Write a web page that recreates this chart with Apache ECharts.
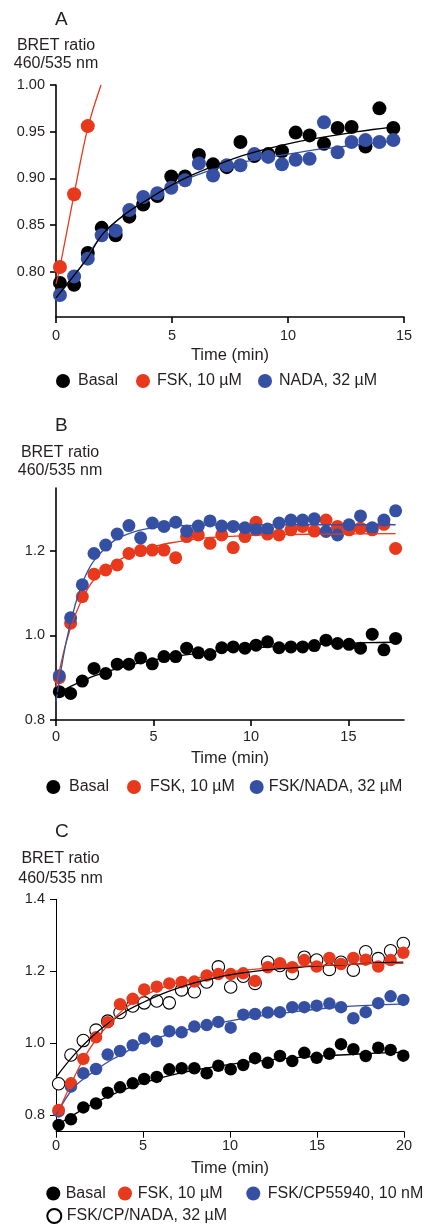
<!DOCTYPE html>
<html>
<head>
<meta charset="utf-8">
<script src="https://cdn.jsdelivr.net/npm/echarts@6/dist/echarts.min.js"></script>
<style>
html,body{margin:0;padding:0;background:#fff;}
#chart{width:425px;height:1224px;}
</style>
</head>
<body>
<div id="chart"></div>
<script>
// ---------- Panel A ----------
const timesA = [0.17,0.78,1.37,1.97,2.57,3.16,3.76,4.37,4.97,5.56,6.16,6.77,7.36,7.95,8.55,9.15,9.74,10.33,10.93,11.55,12.14,12.74,13.34,13.94,14.54];
const basalA = [0.788,0.786,0.820,0.847,0.839,0.859,0.872,0.881,0.902,0.902,0.925,0.915,0.912,0.939,0.924,0.926,0.929,0.949,0.946,0.937,0.954,0.955,0.934,0.975,0.954];
const nadaA  = [0.775,0.795,0.814,0.839,0.844,0.866,0.880,0.884,0.890,0.898,0.916,0.903,0.914,0.914,0.926,0.923,0.915,0.920,0.921,0.960,0.928,0.939,0.941,0.939,0.941];
const fskTimesA = [0.17,0.78,1.37];
const fskA = [0.805,0.883,0.956];
const fitBasalA = [[0,0.772],[1,0.803],[1.37,0.815],[2,0.840],[3,0.862],[4,0.878],[5,0.893],[6,0.905],[7,0.915],[8,0.924],[9,0.931],[10,0.937],[11,0.942],[12,0.946],[13,0.950],[14.54,0.955]];
const fitNadaA  = [[0,0.772],[1,0.803],[2,0.840],[3,0.862],[4,0.879],[5,0.892],[6,0.903],[7,0.911],[8,0.917],[9,0.922],[10,0.926],[11,0.930],[12,0.933],[13,0.936],[14.54,0.940]];
const fitFskA   = [[0,0.787],[0.17,0.805],[0.78,0.883],[1.37,0.954],[1.94,1.0]];
const xTicksA = [0,5,10,15];
const yTicksA = [0.80,0.85,0.90,0.95,1.00];

// ---------- Panel B ----------
const timesB = [0.17,0.75,1.35,1.95,2.55,3.14,3.74,4.34,4.94,5.54,6.14,6.70,7.30,7.90,8.50,9.09,9.69,10.26,10.85,11.44,12.05,12.65,13.25,13.85,14.44,15.03,15.62,16.22,16.82,17.42];
const basalB = [0.867,0.863,0.892,0.922,0.910,0.932,0.932,0.947,0.933,0.950,0.950,0.970,0.959,0.955,0.971,0.973,0.970,0.977,0.985,0.971,0.973,0.973,0.976,0.989,0.981,0.979,0.970,1.003,0.966,0.993];
const fskB   = [0.900,1.029,1.092,1.145,1.155,1.167,1.194,1.201,1.202,1.202,1.184,1.234,1.238,1.218,1.238,1.208,1.234,1.268,1.240,1.238,1.250,1.258,1.247,1.273,1.258,1.250,1.254,1.250,1.263,1.206];
const nadaB  = [0.905,1.042,1.120,1.194,1.214,1.240,1.260,1.231,1.266,1.258,1.268,1.247,1.259,1.271,1.259,1.258,1.255,1.250,1.252,1.266,1.273,1.273,1.276,1.246,1.238,1.262,1.283,1.255,1.273,1.295];
const fitBasalB = [[0,0.862],[1,0.885],[2,0.905],[3,0.920],[4,0.932],[5,0.942],[6,0.950],[7,0.956],[8,0.962],[10,0.970],[12,0.976],[14,0.980],[16,0.983],[17.42,0.984]];
const fitFskB   = [[0,0.878],[0.5,0.980],[1,1.050],[1.5,1.100],[2,1.135],[3,1.172],[4,1.195],[5,1.210],[6,1.220],[7,1.227],[8,1.232],[10,1.237],[12,1.239],[14,1.240],[17.42,1.241]];
const fitNadaB  = [[0,0.843],[0.5,0.980],[1,1.075],[1.5,1.140],[2,1.180],[3,1.225],[4,1.245],[5,1.255],[6,1.259],[8,1.261],[12,1.262],[17.42,1.262]];
const xTicksB = [0,5,10,15];
const yTicksB = [0.8,1.0,1.2];

// ---------- Panel C ----------
const timesC = [0.15,0.86,1.57,2.30,2.97,3.68,4.41,5.07,5.79,6.51,7.22,7.95,8.66,9.33,10.04,10.76,11.44,12.17,12.87,13.58,14.27,14.98,15.71,16.38,17.09,17.80,18.52,19.23,19.96];
const basalC = [0.772,0.788,0.821,0.832,0.862,0.877,0.888,0.900,0.906,0.927,0.930,0.930,0.916,0.937,0.927,0.939,0.958,0.945,0.964,0.950,0.973,0.959,0.970,0.997,0.983,0.964,0.987,0.981,0.965];
const fskC   = [0.814,0.888,0.956,1.016,1.058,1.108,1.123,1.149,1.157,1.166,1.170,1.171,1.188,1.192,1.192,1.194,1.173,1.211,1.222,1.211,1.231,1.213,1.237,1.220,1.237,1.232,1.213,1.231,1.251];
const cpC    = [0.810,0.879,0.916,0.928,0.968,0.978,0.994,1.013,1.005,1.033,1.030,1.046,1.050,1.059,1.043,1.079,1.081,1.085,1.086,1.100,1.100,1.104,1.110,1.100,1.069,1.086,1.111,1.130,1.120];
const cpNadaC= [0.887,0.967,1.007,1.036,1.061,1.085,1.103,1.112,1.117,1.112,1.148,1.143,1.170,1.212,1.156,1.186,1.166,1.225,1.216,1.194,1.239,1.231,1.205,1.225,1.203,1.254,1.235,1.257,1.277];
const fitBasalC  = [[0,0.770],[1,0.800],[2,0.828],[3,0.852],[4,0.872],[5,0.889],[6,0.903],[7,0.915],[8,0.925],[10,0.941],[12,0.952],[14,0.960],[16,0.966],[18,0.971],[19.96,0.974]];
const fitFskC    = [[0.15,0.810],[0.86,0.886],[1.57,0.955],[2.3,1.010],[3,1.050],[4,1.098],[5,1.130],[6,1.152],[7,1.168],[8,1.180],[9,1.190],[10,1.198],[12,1.208],[14,1.214],[16,1.218],[18,1.221],[19.96,1.222]];
const fitCpC     = [[0,0.800],[1,0.875],[2,0.915],[3,0.948],[4,0.975],[5,1.002],[6,1.017],[8,1.042],[10,1.062],[12,1.077],[14,1.089],[16,1.099],[18,1.105],[19.96,1.109]];
const fitCpNadaC = [[0,0.905],[1,0.965],[2,1.015],[3,1.055],[4,1.088],[5,1.113],[6,1.135],[7,1.153],[8,1.168],[10,1.190],[12,1.203],[14,1.211],[16,1.217],[18,1.222],[19.96,1.225]];
const xTicksC = [0,5,10,15,20];
const yTicksC = [0.8,1.0,1.2,1.4];

// ---------- labels ----------
const panelLabels = ['A','B','C'];
const yTitle = 'BRET ratio\n460/535 nm';
const xTitle = 'Time (min)';
const nBasal = 'Basal', nFsk = 'FSK, 10 µM', nNadaA = 'NADA, 32 µM', nNadaB = 'FSK/NADA, 32 µM', nCp = 'FSK/CP55940, 10 nM', nCpNada = 'FSK/CP/NADA, 32 µM';

// ---------- styling ----------
const FONT = "'Liberation Sans', Arial, Helvetica, sans-serif";
const TXT = '#231f20';
const BLACK = '#000000', RED = '#E8391D', BLUE = '#3550A3';

function pairs(t, v){ return t.map((x,i)=>[x, v[i]]); }

function sc(name, idx, data, color, size, z, open){
  return {
    type:'scatter', name, xAxisIndex:idx, yAxisIndex:idx, data, symbol:'circle', symbolSize:size, z, clip:false,
    itemStyle: open ? {color:'#ffffff', borderColor:'#000', borderWidth:1.1, opacity:1} : {color, opacity:1},
    emphasis:{disabled:true}, silent:true
  };
}
function fit(name, idx, data, color, z){
  return {
    type:'line', name, xAxisIndex:idx, yAxisIndex:idx, data, showSymbol:false, smooth:0.35, z,
    lineStyle:{color, width:1.3}, emphasis:{disabled:true}, silent:true, clip:true
  };
}
function xAx(idx, max, ticks, margin, nameGap, lw){
  return {
    type:'value', gridIndex:idx, min:0, max,
    name:xTitle, nameLocation:'middle', nameGap,
    nameTextStyle:{fontFamily:FONT, fontSize:16.5, color:TXT},
    axisLine:{show:true, onZero:false, lineStyle:{color:'#000', width:lw}},
    axisTick:{show:true, inside:false, length:6, customValues:ticks, lineStyle:{color:'#000', width:lw}},
    axisLabel:{customValues:ticks, margin, fontFamily:FONT, fontSize:14.5, color:TXT},
    splitLine:{show:false}
  };
}
function yAx(idx, min, max, ticks, digits, nameGap, padLeft, lh, lw){
  return {
    type:'value', gridIndex:idx, min, max,
    name:yTitle, nameLocation:'end', nameGap,
    nameTextStyle:{fontFamily:FONT, fontSize:16, color:TXT, align:'center', lineHeight:lh, padding:[0,0,0,padLeft]},
    axisLine:{show:true, onZero:false, lineStyle:{color:'#000', width:lw}},
    axisTick:{show:true, inside:false, length:6, customValues:ticks, lineStyle:{color:'#000', width:lw}},
    axisLabel:{customValues:ticks, margin:11, fontFamily:FONT, fontSize:14.5, color:TXT, formatter:(v)=>v.toFixed(digits)},
    splitLine:{show:false}
  };
}
function leg(name, left, cy, pad){
  return {
    data:[name], left, top:cy-8, padding:0, icon:'circle', itemWidth:14, itemHeight:14,
    textStyle:{fontFamily:FONT, fontSize:16, color:TXT, padding:[0,0,0,pad]}, selectedMode:false
  };
}

const chart = echarts.init(document.getElementById('chart'), null, {renderer:'canvas'});
chart.setOption({
  animation:false,
  backgroundColor:'#ffffff',
  title:[
    {text:panelLabels[0], left:55, top:10, textStyle:{fontFamily:FONT, fontSize:19, fontWeight:'normal', color:TXT}, padding:0},
    {text:panelLabels[1], left:55, top:416, textStyle:{fontFamily:FONT, fontSize:19, fontWeight:'normal', color:TXT}, padding:0},
    {text:panelLabels[2], left:55, top:822, textStyle:{fontFamily:FONT, fontSize:19, fontWeight:'normal', color:TXT}, padding:0}
  ],
  grid:[
    {left:56, top:85, width:348, height:232},
    {left:56, top:488, width:348, height:232},
    {left:56, top:899.3, width:348, height:232.4}
  ],
  xAxis:[ xAx(0,15,xTicksA,11,29.5,1.6), xAx(1,17.85,xTicksB,9,29.5,1.6), xAx(2,20,xTicksC,6.5,28,1) ],
  yAxis:[ yAx(0,0.7515,1.0,yTicksA,2,12.5,0,18,1.6), yAx(1,0.8,1.349,yTicksB,1,8.5,8,18,1.6), yAx(2,0.7535,1.4,yTicksC,1,11,9,20,1) ],
  legend:[
    leg(nBasal,56,381,3), leg(nFsk,136,381,2), leg(nNadaA,258,381,2),
    leg(nBasal,46.3,787,3.7), leg(nFsk,127,787,4), leg(nNadaB,249.7,787,0),
    leg(nBasal,46.3,1193.5,0.4), leg(nFsk,118,1193.5,0.7), leg(nCp,246.3,1193.5,2.4),
    leg(nCpNada,46.3,1216,0.4)
  ],
  series:[
    // A
    sc(nBasal,0,pairs(timesA,basalA),BLACK,14,2),
    sc(nFsk,0,pairs(fskTimesA,fskA),RED,14,3),
    sc(nNadaA,0,pairs(timesA,nadaA),BLUE,14,4),
    fit('fitA1',0,fitBasalA,BLACK,6),
    fit('fitA2',0,fitNadaA,BLUE,5),
    fit('fitA3',0,fitFskA,RED,5),
    // B
    sc(nBasal,1,pairs(timesB,basalB),BLACK,13,2),
    sc(nFsk,1,pairs(timesB,fskB),RED,13,3),
    sc(nNadaB,1,pairs(timesB,nadaB),BLUE,13,4),
    fit('fitB1',1,fitBasalB,BLACK,6),
    fit('fitB2',1,fitFskB,RED,5),
    fit('fitB3',1,fitNadaB,BLUE,5),
    // C
    sc(nBasal,2,pairs(timesC,basalC),BLACK,12.5,2),
    sc(nCp,2,pairs(timesC,cpC),BLUE,12.5,3),
    sc(nCpNada,2,pairs(timesC,cpNadaC),'#fff',12.5,4,true),
    sc(nFsk,2,pairs(timesC,fskC),RED,12.5,5),
    fit('fitC1',2,fitBasalC,BLACK,6),
    fit('fitC2',2,fitCpC,BLUE,6),
    fit('fitC3',2,fitCpNadaC,BLACK,6),
    fit('fitC4',2,fitFskC,RED,6)
  ]
});
</script>
</body>
</html>
